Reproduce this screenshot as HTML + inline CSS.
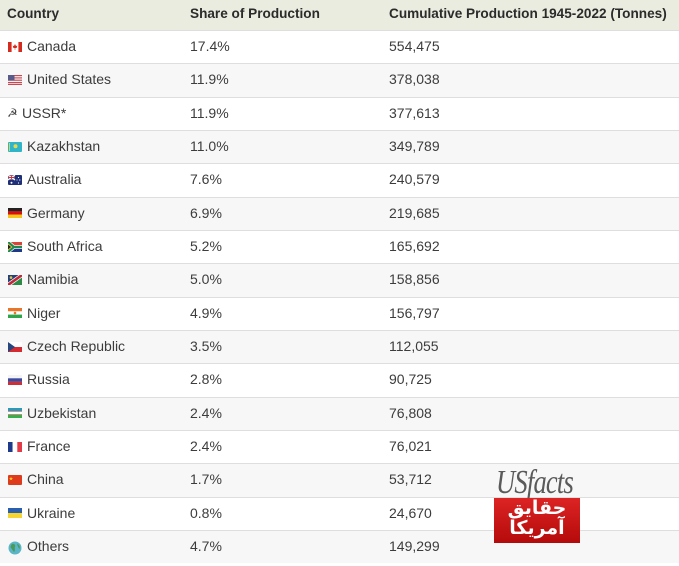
<!DOCTYPE html>
<html><head><meta charset="utf-8">
<style>
html,body{margin:0;padding:0;background:#fff;}
body{width:679px;height:566px;position:relative;overflow:hidden;font-family:"Liberation Sans",Arial,sans-serif;color:#333;}
.hdr{position:absolute;left:0;top:0;width:679px;height:29.5px;background:#e9ecdf;border-bottom:1px solid #dcdfd3;}
.hdr span{position:absolute;top:0;line-height:28.5px;font-weight:bold;font-size:13.6px;color:#2b2b2b;white-space:nowrap;}
.row{position:absolute;left:0;width:679px;height:33.33px;border-top:1px solid #dedede;box-sizing:border-box;}
.row.alt{background:#f7f7f7;}
.row span{position:absolute;top:0;line-height:31.5px;font-size:14px;color:#3c3c3c;white-space:nowrap;}
.c1{left:27px}.c2{left:190px}.c3{left:389px}
.row svg{position:absolute;left:8px;top:10.5px;}
.logo-us{position:absolute;left:496px;top:463px;font-family:"Liberation Serif",serif;font-style:italic;font-size:34px;color:#5a5a5a;transform:scaleX(0.78);transform-origin:left top;letter-spacing:-1px;line-height:40px;white-space:nowrap;}
.logo-red{position:absolute;left:494px;top:498px;width:86px;height:45px;background:linear-gradient(#dc2424,#b50a0a);}
.logo-red div{position:absolute;left:0;width:86px;text-align:center;color:#fff;font-family:"DejaVu Sans",sans-serif;font-weight:bold;font-size:19px;line-height:22px;}
</style></head><body>
<div class="hdr"><span style="left:7px">Country</span><span style="left:190px">Share of Production</span><span style="left:389px">Cumulative Production 1945-2022 (Tonnes)</span></div>

<div class="row" style="top:30px">
<svg width="14" height="10" viewBox="0 0 14 10"><rect width="14" height="10" rx="1" fill="#fff"/><rect width="3.6" height="10" fill="#d52b1e"/><rect x="10.4" width="3.6" height="10" fill="#d52b1e"/><path d="M7 2 L8 4 L9.3 3.6 L8.6 6 L7.3 6 L7.3 7.8 L6.7 7.8 L6.7 6 L5.4 6 L4.7 3.6 L6 4 Z" fill="#d52b1e"/></svg>
<span class="c1">Canada</span><span class="c2">17.4%</span><span class="c3">554,475</span></div>

<div class="row alt" style="top:63.33px">
<svg width="14" height="10" viewBox="0 0 14 10"><rect width="14" height="10" fill="#fff"/><rect y="0" width="14" height="1.2" fill="#c44a55"/><rect y="2.3" width="14" height="1.2" fill="#c44a55"/><rect y="4.6" width="14" height="1.2" fill="#c44a55"/><rect y="6.9" width="14" height="1.2" fill="#c44a55"/><rect y="8.8" width="14" height="1.2" fill="#c44a55"/><rect width="6.5" height="5.4" fill="#5a5a8a"/></svg>
<span class="c1">United States</span><span class="c2">11.9%</span><span class="c3">378,038</span></div>

<div class="row" style="top:96.67px">
<span style="left:7px;font-family:'DejaVu Sans',sans-serif;font-size:12px;color:#444">☭</span>
<span style="left:22px">USSR*</span><span class="c2">11.9%</span><span class="c3">377,613</span></div>

<div class="row alt" style="top:130px">
<svg width="14" height="10" viewBox="0 0 14 10"><rect width="14" height="10" rx="1" fill="#2fb4c8"/><circle cx="7.5" cy="4.3" r="2" fill="#e8d84a"/><rect x="1" y="1" width="0.9" height="8" fill="#e8d84a"/></svg>
<span class="c1">Kazakhstan</span><span class="c2">11.0%</span><span class="c3">349,789</span></div>

<div class="row" style="top:163.33px">
<svg width="14" height="10" viewBox="0 0 14 10"><rect width="14" height="10" rx="1" fill="#1f2f78"/><rect width="7" height="5" fill="#1f2f78"/><path d="M0 0L7 5M7 0L0 5" stroke="#fff" stroke-width="1.2"/><path d="M3.5 0V5M0 2.5H7" stroke="#fff" stroke-width="1.6"/><path d="M3.5 0V5M0 2.5H7" stroke="#d0303a" stroke-width="0.9"/><circle cx="3.5" cy="7.7" r="1" fill="#fff"/><circle cx="10.5" cy="2.5" r="0.6" fill="#fff"/><circle cx="11.8" cy="5" r="0.6" fill="#fff"/><circle cx="10.5" cy="8" r="0.6" fill="#fff"/><circle cx="9" cy="5" r="0.5" fill="#fff"/></svg>
<span class="c1">Australia</span><span class="c2">7.6%</span><span class="c3">240,579</span></div>

<div class="row alt" style="top:196.67px">
<svg width="14" height="10" viewBox="0 0 14 10"><rect width="14" height="3.4" fill="#222"/><rect y="3.3" width="14" height="3.4" fill="#d80e0e"/><rect y="6.6" width="14" height="3.4" fill="#f5c518"/></svg>
<span class="c1">Germany</span><span class="c2">6.9%</span><span class="c3">219,685</span></div>

<div class="row" style="top:230px">
<svg width="14" height="10" viewBox="0 0 14 10"><rect width="14" height="5" fill="#d8453a"/><rect y="5" width="14" height="5" fill="#1d3a8a"/><path d="M0 0L6 5L0 10" fill="none" stroke="#fff" stroke-width="3.6"/><path d="M5 5H14" stroke="#fff" stroke-width="3.6"/><path d="M0 0L6 5L0 10" fill="none" stroke="#1d8a4f" stroke-width="2.2"/><path d="M5 5H14" stroke="#1d8a4f" stroke-width="2.2"/><path d="M0 1.6L4.2 5L0 8.4Z" fill="#e8b829"/><path d="M0 2.6L3 5L0 7.4Z" fill="#222"/></svg>
<span class="c1">South Africa</span><span class="c2">5.2%</span><span class="c3">165,692</span></div>

<div class="row alt" style="top:263.33px">
<svg width="14" height="10" viewBox="0 0 14 10"><rect width="14" height="10" fill="#2a8a46"/><path d="M0 0H14L0 10Z" fill="#22407a"/><path d="M0 10L14 0" stroke="#fff" stroke-width="4"/><path d="M0 10L14 0" stroke="#c0283a" stroke-width="2.6"/><circle cx="3" cy="2.6" r="1.3" fill="#e8c43a"/></svg>
<span class="c1">Namibia</span><span class="c2">5.0%</span><span class="c3">158,856</span></div>

<div class="row" style="top:296.67px">
<svg width="14" height="10" viewBox="0 0 14 10"><rect width="14" height="3.4" fill="#e8762a"/><rect y="3.3" width="14" height="3.4" fill="#fff"/><rect y="6.6" width="14" height="3.4" fill="#2fa54a"/><circle cx="7" cy="5" r="1.3" fill="#e8762a"/></svg>
<span class="c1">Niger</span><span class="c2">4.9%</span><span class="c3">156,797</span></div>

<div class="row alt" style="top:330px">
<svg width="14" height="10" viewBox="0 0 14 10"><rect width="14" height="5" fill="#fff"/><rect y="5" width="14" height="5" fill="#d42a30"/><path d="M0 0L7 5L0 10Z" fill="#23477e"/></svg>
<span class="c1">Czech Republic</span><span class="c2">3.5%</span><span class="c3">112,055</span></div>

<div class="row" style="top:363.33px">
<svg width="14" height="10" viewBox="0 0 14 10"><rect width="14" height="3.4" fill="#f4f4f4"/><rect y="3.3" width="14" height="3.4" fill="#3a4aa0"/><rect y="6.6" width="14" height="3.4" fill="#c8303a"/></svg>
<span class="c1">Russia</span><span class="c2">2.8%</span><span class="c3">90,725</span></div>

<div class="row alt" style="top:396.67px">
<svg width="14" height="10" viewBox="0 0 14 10"><rect width="14" height="3.3" fill="#2a9ab8"/><rect y="3.3" width="14" height="3.4" fill="#fff"/><rect y="6.7" width="14" height="3.3" fill="#35b04a"/><rect y="3.3" width="14" height="0.5" fill="#d43a3a"/><rect y="6.2" width="14" height="0.5" fill="#d43a3a"/></svg>
<span class="c1">Uzbekistan</span><span class="c2">2.4%</span><span class="c3">76,808</span></div>

<div class="row" style="top:430px">
<svg width="14" height="10" viewBox="0 0 14 10"><rect width="4.7" height="10" fill="#1e3a8a"/><rect x="4.6" width="4.8" height="10" fill="#fff"/><rect x="9.3" width="4.7" height="10" fill="#e23a46"/></svg>
<span class="c1">France</span><span class="c2">2.4%</span><span class="c3">76,021</span></div>

<div class="row alt" style="top:463.33px">
<svg width="14" height="10" viewBox="0 0 14 10"><rect width="14" height="10" rx="1" fill="#de3a1c"/><path d="M3 1.5L3.5 3L5 3L3.8 3.9L4.3 5.4L3 4.5L1.7 5.4L2.2 3.9L1 3L2.5 3Z" fill="#f5d020"/></svg>
<span class="c1">China</span><span class="c2">1.7%</span><span class="c3">53,712</span></div>

<div class="row" style="top:496.67px">
<svg width="14" height="10" viewBox="0 0 14 10"><rect width="14" height="5" fill="#2a5fae"/><rect y="5" width="14" height="5" fill="#f5d532"/></svg>
<span class="c1">Ukraine</span><span class="c2">0.8%</span><span class="c3">24,670</span></div>

<div class="row alt" style="top:530px">
<svg width="14" height="14" viewBox="0 0 14 14" style="top:9.5px"><circle cx="7" cy="7" r="6.5" fill="#5bb5c8"/><path d="M4 3C6 2 8 4 7 6C6 7 8 9 6 11C5 10 4 8 3 7C2 6 3 4 4 3Z" fill="#4a9a5a"/><path d="M9 2.5C11 3.5 12.5 6 11.5 8C10.5 7 9.5 5 9 2.5Z" fill="#4a9a5a"/></svg>
<span class="c1">Others</span><span class="c2">4.7%</span><span class="c3">149,299</span></div>

<div class="logo-us">USfacts</div>
<div class="logo-red">
<div style="top:-1px">حقایق</div>
<div style="top:19px">آمریکا</div>
</div>
</body></html>
